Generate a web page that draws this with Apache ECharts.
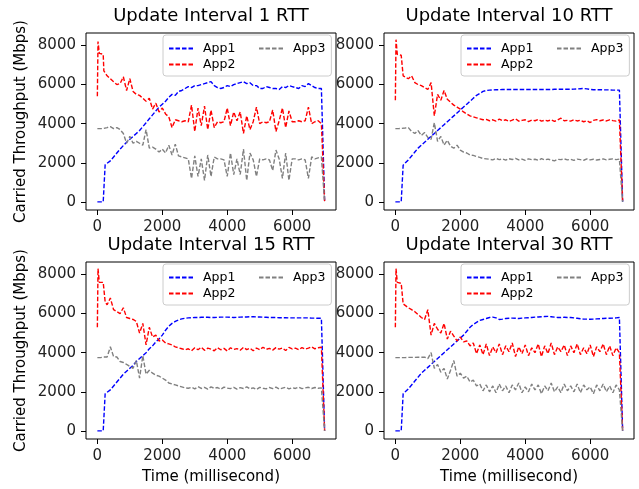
<!DOCTYPE html>
<html>
<head>
<meta charset="utf-8">
<script src="https://cdn.jsdelivr.net/npm/echarts@6/dist/echarts.min.js"></script>
<style>
  html, body { margin: 0; padding: 0; background: #fff; }
  #chart { width: 639px; height: 489px; }
</style>
</head>
<body>
<div id="chart"></div>
<script>
// time stamps (ms)
var times = [0, 20, 60, 100, 180, 200, 240,
  300, 400, 500, 600, 700, 800, 900, 1000, 1100, 1200,
  1300, 1400, 1500, 1600, 1700, 1800, 1900, 2000, 2100, 2200,
  2300, 2400, 2500, 2600, 2700, 2800, 2900, 3000, 3100, 3200,
  3300, 3400, 3500, 3600, 3700, 3800, 3900, 4000, 4100, 4200,
  4300, 4400, 4500, 4600, 4700, 4800, 4900, 5000, 5100, 5200,
  5300, 5400, 5500, 5600, 5700, 5800, 5900, 6000, 6100, 6200,
  6300, 6400, 6500, 6600, 6700, 6800, 6900,
  6960, 7000];

var titles = ['Update Interval 1 RTT', 'Update Interval 10 RTT', 'Update Interval 15 RTT', 'Update Interval 30 RTT'];
var xTicks = [0, 2000, 4000, 6000];
var yTicks = [0, 2000, 4000, 6000, 8000];

// Update Interval 1 RTT
var app1_1 = [0, 0, 0, 0, 0, 0, 1900,
  1950, 2100, 2300, 2500, 2700, 2880, 3050, 3200, 3350, 3500,
  3650, 3850, 4050, 4250, 4450, 4650, 4850, 5000, 5150, 5350,
  5500, 5450, 5650, 5700, 5800, 5900, 5850, 5950, 5950, 6000,
  6050, 6100, 6150, 5950, 5850, 5800, 5850, 5950, 5900, 6000,
  6050, 6100, 6150, 6050, 6100, 5950, 5950, 5800, 5800, 5900,
  5850, 5800, 5800, 5750, 5900, 5850, 5950, 5900, 5850, 5800,
  5950, 5900, 6050, 5950, 5850, 5800, 5800,
  5750, 0];
var app2_1 = [5400, 8200, 7600, 7600, 7550, 6700, 6600,
  6450, 6300, 6150, 6000, 6050, 6400, 5700, 6300, 5650, 5500,
  5450, 5300, 5150, 5300, 4750, 5050, 4600, 4800, 4500, 4350,
  3800, 4200, 4150, 4100, 4150, 4100, 4950, 3600, 4800, 3900,
  4900, 3700, 4700, 3800, 4100, 4050, 4100, 4800, 3900, 4600,
  4150, 4600, 3500, 4400, 3700, 4100, 4850, 4000, 4100, 4050,
  4100, 4700, 3600, 4150, 4800, 3800, 4650, 4100, 4100, 4150,
  4100, 4150, 4850, 4000, 4100, 4150, 4000,
  3900, 0];
var app3_1 = [3750, 3750, 3750, 3750, 3750, 3750, 3760,
  3800, 3850, 3750, 3800, 3700, 3500, 3000, 3350, 3000, 3100,
  3000, 2900, 3700, 2750, 2800, 2700, 2550, 2700, 2500, 2900,
  2400, 2950, 2350, 2300, 2250, 2200, 1200, 2350, 1300, 2200,
  1100, 2400, 1300, 2300, 2200, 2200, 2150, 1300, 2500, 1400,
  2200, 1400, 2700, 1100, 2500, 2150, 1300, 2200, 2150, 2200,
  2150, 1600, 2650, 2200, 1200, 2500, 1100, 2200, 2200, 2150,
  2200, 2150, 1200, 2300, 2200, 2250, 2300,
  2350, 0];

// Update Interval 10 RTT
var app1_10 = [0, 0, 0, 0, 0, 0, 1880,
  1950, 2150, 2350, 2550, 2750, 2900, 3050, 3200, 3350, 3500,
  3650, 3800, 3950, 4100, 4250, 4400, 4550, 4700, 4850, 5000,
  5150, 5300, 5450, 5550, 5650, 5700, 5720, 5730, 5740, 5740,
  5750, 5750, 5750, 5750, 5750, 5750, 5750, 5750, 5750, 5750,
  5750, 5750, 5750, 5750, 5750, 5750, 5760, 5760, 5760, 5760,
  5760, 5760, 5770, 5780, 5790, 5800, 5780, 5750, 5740, 5740,
  5740, 5730, 5730, 5730, 5720, 5720, 5720,
  5720, 0];
var app2_10 = [5200, 8300, 7550, 7550, 7500, 7500, 6450,
  6400, 6300, 6450, 6100, 6000, 5950, 5850, 5750, 6100, 4400,
  5500, 5200, 5700, 5250, 5100, 4950, 4850, 4750, 4600, 4500,
  4400, 4350, 4300, 4250, 4200, 4220, 4150, 4200, 4130, 4230,
  4150, 4200, 4120, 4180, 4250, 4130, 4170, 4200, 4110, 4190,
  4150, 4220, 4130, 4180, 4140, 4200, 4120, 4190, 4280, 4150,
  4170, 4130, 4200, 4140, 4180, 4100, 4150, 4060, 4170, 4210,
  4150, 4190, 4140, 4200, 4160, 4130, 4200,
  4150, 0];
var app3_10 = [3750, 3750, 3750, 3750, 3760, 3760, 3760,
  3780, 3800, 3600, 3500, 3650, 3400, 3550, 3300, 3200, 4050,
  3100, 3350, 2900, 3150, 2850, 2750, 2900, 2650, 2550, 2500,
  2400, 2380, 2320, 2280, 2220, 2200, 2180, 2150, 2220, 2160,
  2200, 2140, 2210, 2170, 2230, 2150, 2190, 2120, 2200, 2160,
  2180, 2130, 2210, 2150, 2190, 2140, 2100, 2180, 2160, 2200,
  2150, 2180, 2120, 2190, 2160, 2130, 2200, 2150, 2180, 2140,
  2170, 2200, 2150, 2180, 2200, 2160, 2190,
  2150, 0];

// Update Interval 15 RTT
var app1_15 = [0, 0, 0, 0, 0, 0, 1900,
  1950, 2100, 2300, 2500, 2700, 2900, 3050, 3200, 3350, 3550,
  3700, 3850, 4000, 4200, 4350, 4550, 4700, 4900, 5150, 5350,
  5500, 5600, 5680, 5730, 5760, 5780, 5790, 5800, 5800, 5810,
  5810, 5810, 5800, 5800, 5810, 5820, 5820, 5820, 5810, 5800,
  5810, 5820, 5830, 5830, 5840, 5840, 5830, 5830, 5820, 5810,
  5800, 5800, 5800, 5790, 5790, 5790, 5780, 5780, 5780, 5780,
  5780, 5780, 5780, 5770, 5770, 5760, 5760,
  5760, 0];
var app2_15 = [5300, 8300, 7600, 7600, 7600, 7600, 6600,
  6450, 6800, 6200, 6100, 6000, 6300, 5800, 5750, 5700, 5600,
  5000, 5500, 4400, 5300, 4800, 4900, 4600, 4650, 4500, 4450,
  4400, 4300, 4250, 4200, 4150, 4200, 4100, 4250, 4150, 4280,
  4120, 4230, 4180, 4100, 4260, 4150, 4220, 4090, 4250, 4170,
  4210, 4120, 4270, 4160, 4230, 4100, 4240, 4150, 4280, 4170,
  4220, 4130, 4260, 4180, 4240, 4110, 4270, 4190, 4230, 4150,
  4260, 4180, 4230, 4300, 4200, 4250, 4280,
  4200, 0];
var app3_15 = [3750, 3750, 3750, 3750, 3780, 3780, 3780,
  3780, 4300, 3800, 3780, 3550, 3500, 3400, 3300, 3200, 3600,
  2700, 3850, 2900, 3100, 2950, 2850, 2800, 2700, 2600, 2450,
  2400, 2350, 2300, 2250, 2200, 2180, 2230, 2150, 2260, 2170,
  2230, 2140, 2250, 2180, 2220, 2130, 2240, 2190, 2160, 2230,
  2140, 2210, 2170, 2250, 2150, 2200, 2120, 2230, 2180, 2150,
  2220, 2160, 2240, 2140, 2190, 2230, 2150, 2210, 2170, 2240,
  2160, 2200, 2230, 2170, 2220, 2180, 2200,
  2180, 0];

// Update Interval 30 RTT
var app1_30 = [0, 0, 0, 0, 0, 0, 1900,
  1950, 2150, 2350, 2550, 2750, 2950, 3100, 3250, 3400, 3550,
  3700, 3850, 4000, 4150, 4300, 4450, 4600, 4750, 4900, 5100,
  5300, 5450, 5550, 5650, 5700, 5750, 5800, 5820, 5780, 5700,
  5720, 5750, 5760, 5770, 5760, 5750, 5770, 5780, 5790, 5800,
  5820, 5830, 5840, 5850, 5860, 5840, 5820, 5800, 5800, 5810,
  5800, 5800, 5780, 5760, 5740, 5720, 5720, 5710, 5720, 5730,
  5740, 5750, 5760, 5760, 5770, 5780, 5800,
  5800, 0];
var app2_30 = [5300, 8300, 7600, 7600, 7550, 7550, 6500,
  6400, 6300, 6200, 6100, 5950, 5800, 5700, 6200, 4900, 5500,
  5200, 5000, 5500, 4700, 5100, 4850, 4600, 4800, 4550, 4600,
  4350, 4500, 3950, 4400, 3900, 4450, 3850, 4300, 4000, 4450,
  3900, 4350, 4050, 4500, 3800, 4300, 3950, 4400, 3850, 4250,
  4000, 4450, 3800, 4350, 3950, 4500, 3900, 4300, 4050, 4400,
  3850, 4350, 4000, 4450, 3900, 4250, 3950, 4400, 3800, 4300,
  4050, 4450, 3900, 4350, 3850, 4250, 4000,
  3900, 0];
var app3_30 = [3750, 3750, 3750, 3750, 3750, 3750, 3750,
  3750, 3760, 3760, 3760, 3770, 3770, 3770, 3700, 4000, 3200,
  3400, 3000, 3200, 2650, 3100, 3600, 2800, 2950, 2700, 2800,
  2500, 2600, 2300, 2400, 2050, 2350, 2000, 2300, 1950, 2400,
  2050, 2300, 1950, 2350, 2100, 2450, 1950, 2250, 2000, 2400,
  2100, 2350, 1900, 2300, 2050, 2450, 2000, 2250, 1950, 2400,
  2050, 2300, 2000, 2400, 1950, 2350, 2100, 2250, 1900, 2350,
  2050, 2400, 2000, 2300, 1950, 2350, 2100,
  2050, 0];

var panels = [
  [app1_1, app2_1, app3_1],
  [app1_10, app2_10, app3_10],
  [app1_15, app2_15, app3_15],
  [app1_30, app2_30, app3_30]
];
var names = ['App1', 'App2', 'App3'];
var colors = ['#0000ff', '#ff0000', '#808080'];

var font = 'DejaVu Sans';
var grids = [
  { left: 86, top: 33, width: 250, height: 177 },
  { left: 384, top: 33, width: 250, height: 177 },
  { left: 86, top: 262, width: 250, height: 177 },
  { left: 384, top: 262, width: 250, height: 177 }
];

function zip(vals) {
  return times.map(function (t, i) { return [t, vals[i]]; });
}
function plain(v) { return String(v); }

var option = {
  animation: false,
  backgroundColor: '#fff',
  textStyle: { fontFamily: font },
  title: [],
  legend: [],
  grid: [],
  xAxis: [],
  yAxis: [],
  series: []
};

var legendBase = {
  itemWidth: 24,
  itemHeight: 14,
  itemGap: 3,
  itemStyle: { opacity: 0 },
  textStyle: { fontFamily: font, fontSize: 12.5, color: '#000', padding: [0, 0, 0, 5] }
};

for (var p = 0; p < 4; p++) {
  var g = grids[p];
  option.grid.push({
    left: g.left, top: g.top, width: g.width, height: g.height,
    show: true, borderColor: '#000', borderWidth: 1, backgroundColor: 'transparent'
  });
  option.title.push({
    text: titles[p],
    left: g.left + g.width / 2,
    textAlign: 'center',
    top: g.top - 26,
    padding: 0,
    textStyle: { fontFamily: font, fontSize: 18, fontWeight: 'normal', color: '#000' }
  });
  // framed legend: App1 / App2 column, frame stretched to cover App3
  option.legend.push(Object.assign({}, legendBase, {
    left: g.left + 77,
    top: g.top + 2,
    orient: 'vertical',
    padding: [7, 96, 5, 5],
    backgroundColor: 'rgba(255,255,255,0.8)',
    borderColor: '#cccccc',
    borderWidth: 1,
    borderRadius: 3,
    data: ['App1', 'App2']
  }));
  option.legend.push(Object.assign({}, legendBase, {
    left: g.left + 172,
    top: g.top + 2,
    orient: 'vertical',
    padding: [7, 0, 0, 0],
    data: ['App3']
  }));
  option.xAxis.push({
    type: 'value',
    gridIndex: p,
    min: -350,
    max: 7350,
    name: p >= 2 ? 'Time (millisecond)' : '',
    nameLocation: 'middle',
    nameGap: 31,
    nameTextStyle: { fontFamily: font, fontSize: 15, color: '#000' },
    axisLine: { show: false, onZero: false },
    axisTick: { show: true, length: 5, customValues: xTicks, lineStyle: { color: '#000' } },
    axisLabel: { customValues: xTicks, formatter: plain, margin: 10, fontFamily: font, fontSize: 15, color: '#222' },
    splitLine: { show: false }
  });
  option.yAxis.push({
    type: 'value',
    gridIndex: p,
    min: -415,
    max: 8640,
    name: (p % 2 === 0) ? 'Carried Throughput (Mbps)' : '',
    nameLocation: 'middle',
    nameGap: 57,
    nameTextStyle: { fontFamily: font, fontSize: 15, color: '#000' },
    axisLine: { show: false, onZero: false },
    axisTick: { show: true, length: 5, customValues: yTicks, lineStyle: { color: '#000' } },
    axisLabel: { customValues: yTicks, formatter: plain, margin: 10, fontFamily: font, fontSize: 15, color: '#222' },
    splitLine: { show: false }
  });
  for (var s = 0; s < 3; s++) {
    option.series.push({
      name: names[s],
      type: 'line',
      xAxisIndex: p,
      yAxisIndex: p,
      symbol: 'none',
      color: colors[s],
      lineStyle: { width: 1.4, type: [4.5, 2], color: colors[s] },
      data: zip(panels[p][s])
    });
  }
}

var chart = echarts.init(document.getElementById('chart'));
chart.setOption(option);
</script>
</body>
</html>
